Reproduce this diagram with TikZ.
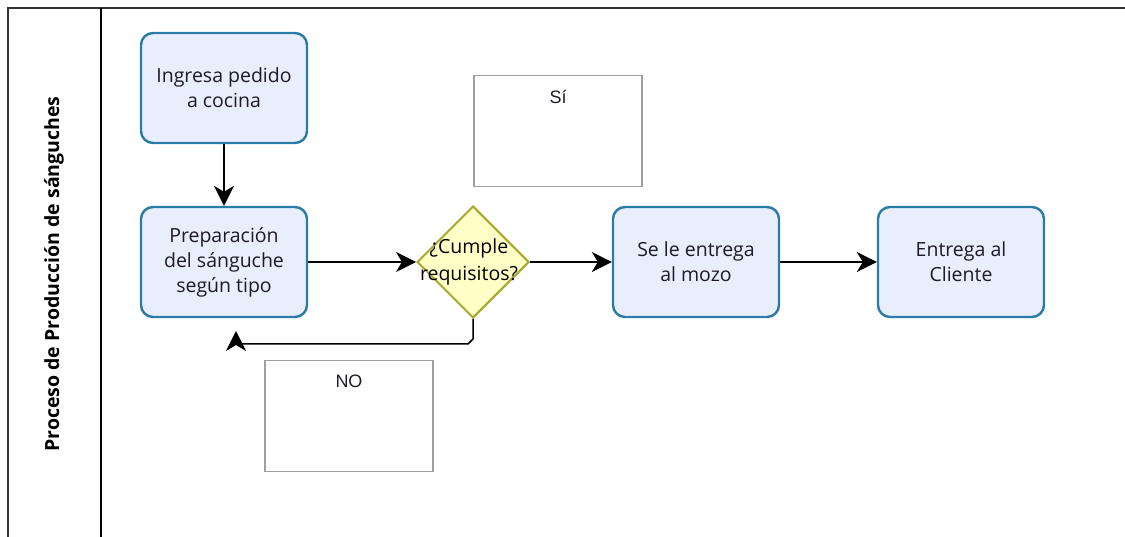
\documentclass[tikz,border=0pt]{standalone}
\usepackage{fontspec}
\setmainfont{Open Sans}
\newfontfamily\arialfont{Liberation Sans}
\usetikzlibrary{shapes.geometric,arrows.meta}
\definecolor{taskfill}{HTML}{E8EEFC}
\definecolor{taskline}{HTML}{2A7BA6}
\definecolor{gwfill}{HTML}{FFFFC8}
\definecolor{gwline}{HTML}{A8A82E}
\definecolor{frameline}{HTML}{333333}
\definecolor{notegray}{HTML}{A0A0A0}
\definecolor{txt}{HTML}{1E1A2A}
\tikzset{
  task/.style={draw=taskline, line width=2.4pt, fill=taskfill, rounded corners=12pt,
    minimum width=166pt, minimum height=110pt, align=center, text=txt,
    font=\fontsize{19.5}{25}\selectfont, inner sep=0pt},
  gateway/.style={draw=gwline, line width=2pt, fill=gwfill, diamond, aspect=1,
    minimum width=112pt, minimum height=112pt, inner sep=0pt},
  note/.style={draw=notegray, line width=1.5pt, minimum width=168pt, minimum height=111pt},
  notetext/.style={font=\arialfont\fontsize{18}{20}\selectfont, text=txt, inner sep=0pt},
  flow/.style={draw=black, line width=1.5pt, -{Stealth[length=20pt,width=20pt,inset=6pt]}},
}
\begin{document}
\begin{tikzpicture}[x=1pt,y=-1pt]
\useasboundingbox (0,0) rectangle (1125,537);
% pool frame
\draw[frameline, line width=2.2pt] (8,545) -- (8,8) -- (1135,8);
\draw[black, line width=1.8pt] (101,8) -- (101,545);
\node[rotate=90, font=\bfseries\fontsize{19.5}{22}\selectfont, text=black] (lane) at (54,274) {Proceso de Producción de sánguches};
% tasks
\node[task] (t1) at (224,88) {Ingresa pedido\\a cocina};
\node[task] (t2) at (224,262) {Preparación\\del sánguche\\según tipo};
\node[gateway] (g) at (473,262) {};
\node[align=center, font=\fontsize{19.5}{27}\selectfont, text=black, inner sep=0pt] (gl) at (469,262) {¿Cumple\\requisitos?};
\node[task] (t3) at (696,262) {Se le entrega\\al mozo};
\node[task] (t4) at (961,262) {Entrega al\\Cliente};
% annotations
\node[note] (si) at (558,131) {};
\node[notetext] (sit) at (558,97) {Sí};
\node[note] (no) at (349,416) {};
\node[notetext] (not) at (349,381) {NO};
% flows
\draw[flow] (t1.south) -- (t2.north);
\draw[flow] (t2.east) -- (g.west);
\draw[flow] (g.east) -- (t3.west);
\draw[flow] (t3.east) -- (t4.west);
\coordinate (back) at (236,331);
\draw[flow] (g.south) -- (473,339) -- (468,344) -- (236,344) -- (back);
\end{tikzpicture}
\end{document}
